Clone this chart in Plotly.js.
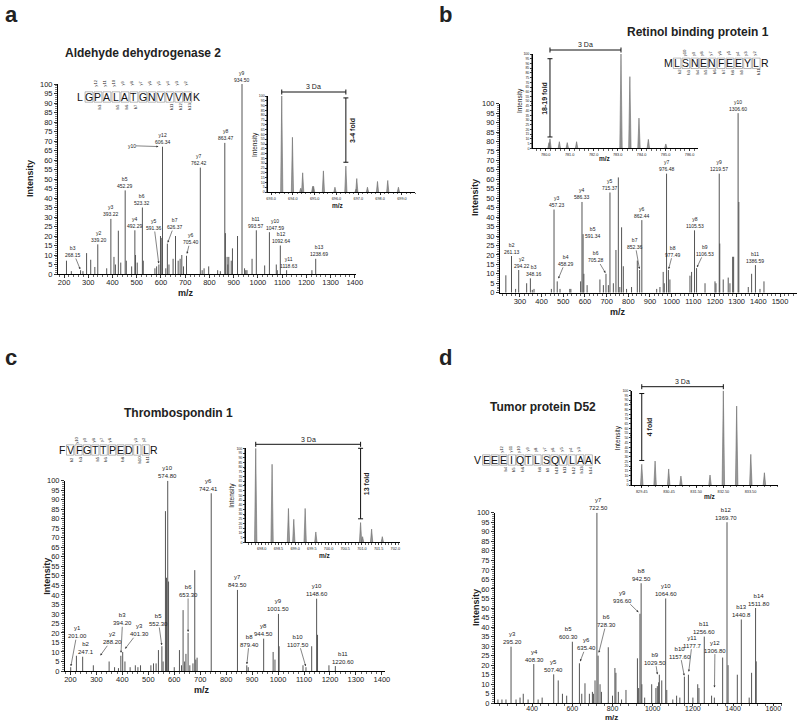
<!DOCTYPE html>
<html>
<head>
<meta charset="utf-8">
<script src="https://cdn.plot.ly/plotly-3.0.1.min.js"></script>
<style>
html,body{margin:0;padding:0;background:#fff;}
#fig{width:800px;height:722px;}
</style>
</head>
<body>
<div id="fig"></div>
<script>
// ======================= DATA =======================
// ---- Panel a : Aldehyde dehydrogenase 2 ----
const aTitle = 'Aldehyde dehydrogenase 2';
const aSeq = 'LGPALATGNVVVMK';
const aSeqY = [12,11,10,9,8,7,6,5,4,3,2];
const aSeqB = [3,5,6,7,11,12,13];
const aMz  = [210,230,268.15,278,293,310,327,339.20,376,393.22,406,412,424,434,452.29,457,479,492.29,495,502,523.32,527,575,582,591.36,598,601,606.34,620,626.37,633,650,660,671,679,686,693,705.40,762.42,770,778,797,834,845,863.47,866,873,876,880,890,895,916,934.50,945,950,955,976,993.57,1028,1047.59,1076,1080,1092.64,1118.63,1223,1238.69];
const aInt = [7,1.5,2,1.5,11,7.5,3.7,15.6,3,29,9,5,22.8,6,44,7,4,23,10,6,35,7,3,4,5,20,19,67,3,16,5,8,20,7,8,10,4,9.6,56,2,3,4,2,1.5,69,21.5,9,5,9,7,13.5,20,100,3,2,2,8,23,4.5,22,5,2,15,2,2,8];
const aLabIon = ['b3','y2','y3','b5','y4','b6','y5','y10','y12','b7','y6','y7','y8','y9','b11','y10','b12','y11','b13'];
const aLabTxt = ['268.15','339.20','393.22','452.29','492.29','523.32','591.36','','606.34','626.37','705.40','762.42','863.47','934.50','993.57','1047.59','1092.64','1118.63','1238.69'];
const aLabAt  = [268.15,339.20,393.22,452.29,492.29,523.32,591.36,606.34,606.34,626.37,705.40,762.42,863.47,934.50,993.57,1047.59,1092.64,1118.63,1238.69];
const iaMz  = [693.49,693.98,694.36,694.45,694.91,694.95,695.40,695.93,696.43,696.90,696.93,697.42,697.88,698.35,698.84];
const iaInt = [100,57,4,20,6,6,22,5,27,3,14,5,11,12,5];
const iaSpan = [693.49,696.43];
const iaFold = [696.43,31,98];
const iaFoldTxt = '3-4 fold';

// ---- Panel b : Retinol binding protein 1 ----
const bTitle = 'Retinol binding protein 1';
const bSeq = 'MLSNENFEEYLR';
const bSeqY = [10,9,8,7,6,5,4,3,2];
const bSeqB = [2,3,4,5,6,7,8,9,11];
const bMz  = [235,261.13,280,294.22,331,348.16,357,365,445,457.23,472,485,530,535,580,586.33,591.34,595,610,669,685,697,708,715.37,731,743,754,761,769,777,792,815,841.5,852.36,862.44,931,946,961,966,976.48,985,992,1084.5,1092,1105.53,1115,1154,1200,1204.5,1219.57,1222,1238,1261,1269,1281.5,1286,1306.60,1310,1353.6,1369,1386.59,1407.6,1426];
const bInt = [9.2,19.4,2,12,5,7.6,1.5,2,2,44,6,2,2,2,6,48,31,10,4,7,4,10,4,53,5,22.6,61,3,34.6,14,2,3,17,12,38.4,2,3,11,5,63,12,7,9,11,33,13,5,6,5,63,26,7,8,5,19,19,95,48,3,10,14.6,2,6];
const bLabIon = ['b2','y2','b3','y3','b4','y4','b5','b6','y5','b7','y6','y7','b8','y8','b9','y9','y10','b11'];
const bLabTxt = ['261.13','294.22','348.16','457.23','458.29','586.33','591.34','705.28','715.37','852.36','862.44','976.48','977.49','1105.53','1106.53','1219.57','1306.60','1386.59'];
const bLabAt  = [261.13,294.22,348.16,457.23,472,586.33,591.34,697,715.37,852.36,862.44,976.48,985,1105.53,1115,1219.57,1306.60,1386.59];
const ibMz  = [780.14,780.18,780.57,780.90,781.29,783.14,783.51,783.89,784.28,785.01];
const ibInt = [6,10,7,6,7,100,76,32,9.5,4.6];
const ibSpan = [780.18,783.14];
const ibFold = [780.18,12,95];
const ibFoldTxt = '18-19 fold';

// ---- Panel c : Thrombospondin 1 ----
const cTitle = 'Thrombospondin 1';
const cSeq = 'FVFGTTPEDILR';
const cSeqY = [10,9,8,7,6,3,2];
const cSeqB = [2,3,5,6,8,10,11];
const cMz  = [201.0,223,247.1,288.2,349,370,385,394.2,401.3,410,430,450,460,470,510,520,530,539,552.3,557,566,570,574.8,578,600,620,628,634,640,645,653.3,660,672,679,683,688,742.41,843.5,879.4,885,944.5,981,988,1001.5,1004,1096,1107.5,1129.5,1148.6,1152,1196,1220.6];
const cInt = [2,8,7.5,3,5,2,1.5,8,10,5,2,3,2,3,3,4,4,11,13,5,84,49,100,47,2,11,3,32,5,9,20,3,4,53,6,7,93.4,42.6,3,2,17,10,6,30,13,3,2,13,38,19,3,2.6];
const cLabIon = ['y1','b2','y2','b3','y3','b5','y10','b6','y6','y7','b8','y8','y9','b10','y10','b11'];
const cLabTxt = ['201.00','247.1','288.20','394.20','401.30','552.30','574.80','653.30','742.41','843.50','879.40','944.50','1001.50','1107.50','1148.60','1220.60'];
const cLabAt  = [201.0,247.1,288.2,394.2,401.3,552.3,574.8,653.3,742.41,843.5,879.4,944.5,1001.5,1107.5,1148.6,1220.6];
const icMz  = [697.82,698.31,698.80,698.96,699.30,699.62,700.96,701.02,701.29,701.61];
const icInt = [100,83,36,24.5,36,11,21,6,14,6];
const icSpan = [697.82,700.96];
const icFold = [700.96,25,100];
const icFoldTxt = '13 fold';

// ---- Panel d : Tumor protein D52 ----
const dTitle = 'Tumor protein D52';
const dSeq = 'VEEEIQTLSQVLAAK';
const dSeqY = [12,11,10,9,8,7,6,5,4,3];
const dSeqB = [4,5,6,8,9,10,11,12,13,14];
const dMz  = [230,250,270,295.2,320,340,356,380,408.3,430,450,507.4,530,551,572,600.3,635.4,647,663,685,700,705,713,722.5,728.3,738,745,779,800,812,817,829,845,867,924,930,936.6,942.5,946,960,995,1016,1023,1029.5,1033,1045,1064.6,1070,1100,1119,1135,1157.6,1177.7,1200,1224,1230,1256.6,1293,1306.8,1348,1369.7,1375,1421,1440.8,1480,1492,1511.8,1515];
const dInt = [2,2,2,29.7,2,3,5,2,20.6,2,3,15.2,12,5,4,32.3,21,5,10.5,5,6,5,12,100,25,10,6,29.4,4,18.5,16,6,2,7,23.6,8,47,63,10,3,10,8,9,11,15,12,55,7,2,4,3,14,15,3,10,8,35,4,3,24,95,20,15,44,3,16,50,22];
const dLabIon = ['y3','y4','y5','b5','y6','b6','y7','y9','b8','b9','y10','b10','y11','b11','y12','b12','b13','b14'];
const dLabTxt = ['295.20','408.30','507.40','600.30','635.40','728.30','722.50','936.60','942.50','1029.50','1064.60','1157.60','1177.7','1256.60','1306.80','1369.70','1440.8','1511.80'];
const dLabAt  = [295.2,408.3,507.4,600.3,635.4,728.3,722.5,936.6,942.5,1029.5,1064.6,1157.6,1177.7,1256.6,1306.8,1369.7,1440.8,1511.8];
const idMz  = [829.45,829.94,830.44,830.89,831.96,832.45,832.94,833.46,833.96];
const idInt = [22,25.4,17,9.5,10.6,100,83.7,32.5,13];
const idSpan = [829.45,832.45];
const idFold = [829.45,26,97];
const idFoldTxt = '4 fold';
const idTickVals = [829.45,830.45,831.45,832.45,833.45];
const idTickTxt  = ['829.45','830.45','831.50','832.50','833.50'];

// ======================= STYLE / GEOMETRY =======================
const W = 800, H = 722;
const FONT = 'Liberation Sans, Arial, Helvetica, sans-serif';
const INK = '#222';
const SPEC = '#555';

// axis boxes in pixels (x0,x1 left/right; y0 = value 0, y1 = value 100)
const G = {
  a:  {n:1, x0:58,    x1:356,   y0:274,   y1:84,    xr:[175,1405],     tick0:200, dtick:100, minor:20, tl:3, fs:7.5, so:-2},
  b:  {n:2, x0:500,   x1:796.7, y0:292.7, y1:103.7, xr:[208,1577],     tick0:300, dtick:100, minor:20, tl:3, fs:7.5, so:-2},
  c:  {n:3, x0:65,    x1:385,   y0:671,   y1:480.7, xr:[179,1412],     tick0:200, dtick:100, minor:20, tl:3, fs:7.5, so:-2},
  d:  {n:4, x0:495,   x1:781.7, y0:703.3, y1:512.7, xr:[215.4,1641.8], tick0:400, dtick:200, minor:40, tl:2, fs:7,   so:-4},
  ia: {n:5, x0:268,   x1:415,   y0:192,   y1:96,    xr:[692.86,699.6], tick0:693, dtick:1,   minor:0.2, fmt:'.1f', w:0.05},
  ib: {n:6, x0:532.7, x1:698,   y0:148.3, y1:54,    xr:[779.46,786.35],tick0:780, dtick:1,   minor:0.2, fmt:'.1f', w:0.05},
  ic: {n:7, x0:245.7, x1:400,   y0:542.3, y1:448.3, xr:[697.52,702.14],tick0:698, dtick:0.5, minor:0.1, fmt:'.1f', w:0.035},
  id: {n:8, x0:631.7, x1:778,   y0:485,   y1:390.7, xr:[829.08,834.46],tick0:829.45, dtick:1, minor:0.25, w:0.045}
};

// label offsets in px: [dx] above peak | [dx,dy] centred offset | [dx,dy,1,standoff] arrow
const aLabPos = [[-7.6,-18.7,1,1],[1],[0],[0],[0],[0],[-5,-40,1,1],[-31,-1,1,4],[0],[7.5,-20,1,1],[4,-17,1,2],[-1],[1],[0],[0],[5.7],[1],[2],[3]];
const bLabPos = [[0],[3],[4],[3],[8.7,-21,1,3],[0],[9.6,-2],[-10,-16.8,1,1],[0],[-4.7,-26.7,1,1],[0],[0],[4.9,-18.8,1,1],[0],[8.4,-17.8,1,1],[0],[0],[0]];
const cLabPos = [[6.5,-35,1,1],[3],[19.3,-27,1,12],[1.8,-36.5,1,3],[16.6,-21.7,1,4],[-3.6,-26.3,1,1],[0],[0,-42,1,1],[-2.5],[0],[2.5,-24.6,1,1],[0],[0],[-7.7,-26.5,1,1],[0],[8]];
const dLabPos = [[1.5],[1],[0],[-4],[7.3,-19,1,2],[8.6,-34.6,1,3],[2],[-17.3,-17,1,2],[0],[-3.6,-23.6,1,8],[0],[-4.5,-24,1,1],[3.8,-33,1,3],[0],[0.6,-51,1,10],[-1],[0],[3]];

const SEQG = {
  a: {x:80,    dx:8.98, y:97,   up:82.7,  dn:106.5},
  b: {x:668.3, dx:8.8,  y:63.3, up:53.3,  dn:72},
  c: {x:61.7,  dx:8.4,  y:450,  up:440,   dn:459.5},
  d: {x:477.7, dx:8.54, y:460,  up:449.3, dn:469.5}
};

// ======================= BUILD =======================
const traces = [], annotations = [], shapes = [];
const layout = {
  width:W, height:H, margin:{l:0,r:0,t:0,b:0},
  paper_bgcolor:'#fff', plot_bgcolor:'rgba(0,0,0,0)',
  showlegend:false, font:{family:FONT, color:INK}
};
const sfx = n => (n === 1 ? '' : String(n));
const PX = p => p / W, PY = p => 1 - p / H;
const toPx = (g, v) => g.x0 + (v - g.xr[0]) / (g.xr[1] - g.xr[0]) * (g.x1 - g.x0);
const toPy = (g, v) => g.y0 - v / 100 * (g.y0 - g.y1);

function setupAxes(g, inset) {
  const s = sfx(g.n);
  const fs = inset ? 3.8 : g.fs;
  const xa = {
    domain:[PX(g.x0), PX(g.x1)], range:g.xr, anchor:'y'+s,
    showline:true, linecolor:'#000', linewidth:1, ticks:'outside', ticklen:inset?2:g.tl, tickwidth:0.8, tickcolor:'#000',
    showgrid:false, zeroline:false, fixedrange:true, ticklabelstandoff: inset?0:g.so,
    tickfont:{family:FONT, size:fs, color:INK},
    minor:{dtick:g.minor, ticklen:inset?1.2:1.8, tickwidth:0.6, tickcolor:'#000', ticks:'outside', showgrid:false}
  };
  if (g.n === 8) { xa.tickmode = 'array'; xa.tickvals = idTickVals; xa.ticktext = idTickTxt; xa.minor.tick0 = 829.45; }
  else { xa.tickmode = 'linear'; xa.tick0 = g.tick0; xa.dtick = g.dtick; if (g.fmt) xa.tickformat = g.fmt; xa.minor.tick0 = g.tick0; }
  const ya = {
    domain:[PY(g.y0), PY(g.y1)], range:[0,100], anchor:'x'+s,
    showline:true, linecolor:'#000', linewidth:1, ticks:'outside', ticklen:inset?1.6:3, tickwidth:0.8, tickcolor:'#000',
    showgrid:false, zeroline:false, fixedrange:true,
    tickmode:'linear', tick0:0, dtick:5,
    tickfont:{family:FONT, size:inset?3.6:7.5, color:INK},
    minor:{dtick:1, ticklen:inset?0.9:1.8, tickwidth:0.5, tickcolor:'#000', ticks:'outside', showgrid:false}
  };
  layout['xaxis'+s] = xa; layout['yaxis'+s] = ya;
}

function sticks(g, mz, it) {
  const x = [], y = [];
  mz.forEach((m, i) => { x.push(m, m, null); y.push(0, it[i], null); });
  traces.push({type:'scatter', mode:'lines', x, y, xaxis:'x'+sfx(g.n), yaxis:'y'+sfx(g.n),
    line:{color:SPEC, width:1}, hoverinfo:'skip', cliponaxis:false});
}
function profile(g, mz, it) {
  const x = [], y = [];
  mz.forEach((m, i) => { x.push(m - g.w, m, m + g.w, null); y.push(0, it[i], 0, null); });
  traces.push({type:'scatter', mode:'lines', x, y, xaxis:'x'+sfx(g.n), yaxis:'y'+sfx(g.n),
    fill:'toself', fillcolor:'#9a9a9a', line:{color:'#6a6a6a', width:0.6}, hoverinfo:'skip'});
}
function nearestI(mz, it, m) {
  let best = 0, bd = Infinity;
  mz.forEach((v, i) => { const d = Math.abs(v - m); if (d < bd) { bd = d; best = i; } });
  return it[best];
}
function peakLabels(g, mz, it, ions, txts, at, pos, fs) {
  const s = sfx(g.n);
  ions.forEach((ion, i) => {
    const m = at[i], I = nearestI(mz, it, m), p = pos[i];
    const text = txts[i] ? ion + '<br>' + txts[i] : ion;
    const base = {xref:'x'+s, yref:'y'+s, x:m, y:I, text, align:'center',
      font:{family:FONT, size:fs, color:INK}, borderpad:0};
    if (p.length >= 3 && p[2]) {
      annotations.push(Object.assign(base, {showarrow:true, ax:p[0], ay:p[1], arrowhead:2, arrowsize:0.7,
        arrowwidth:0.6, arrowcolor:'#333', standoff:p[3] || 0}));
    } else if (p.length === 2) {
      annotations.push(Object.assign(base, {showarrow:false, xanchor:'center', yanchor:'middle', xshift:p[0], yshift:-p[1]}));
    } else {
      annotations.push(Object.assign(base, {showarrow:false, xanchor:'center', yanchor:'bottom', xshift:p[0] || 0, yshift:0.5}));
    }
  });
}
function sequence(seq, yI, bI, q) {
  const n = seq.length;
  for (let i = 0; i < n; i++) {
    const cx = q.x + i * q.dx;
    annotations.push({xref:'paper', yref:'paper', x:PX(cx), y:PY(q.y), text:seq[i], showarrow:false,
      xanchor:'center', yanchor:'middle', font:{family:FONT, size:10.5, color:'#111'}});
    if (i > 0 && i < n - 1) {
      shapes.push({type:'rect', xref:'paper', yref:'paper', x0:PX(cx - q.dx/2 + 0.6), x1:PX(cx + q.dx/2 - 0.6),
        y0:PY(q.y + 5.2), y1:PY(q.y - 5.2), line:{color:'#8a8a8a', width:0.6}});
    }
  }
  yI.forEach(k => annotations.push({xref:'paper', yref:'paper', x:PX(q.x + (n - k - 0.5) * q.dx + 2.5), y:PY(q.up),
    text:'y'+k, textangle:-90, showarrow:false, xanchor:'center', yanchor:'middle', font:{family:FONT, size:4.2, color:INK}}));
  bI.forEach(k => annotations.push({xref:'paper', yref:'paper', x:PX(q.x + (k - 0.5) * q.dx - 2.5), y:PY(q.dn),
    text:'b'+k, textangle:-90, showarrow:false, xanchor:'center', yanchor:'middle', font:{family:FONT, size:4.2, color:INK}}));
}
function text(x, y, t, size, opt) {
  annotations.push(Object.assign({xref:'paper', yref:'paper', x:PX(x), y:PY(y), text:t, showarrow:false,
    xanchor:'center', yanchor:'middle', font:{family:FONT, size, color:INK}}, opt || {}));
}
function line(x0, y0, x1, y1, w) {
  shapes.push({type:'line', xref:'paper', yref:'paper', x0:PX(x0), y0:PY(y0), x1:PX(x1), y1:PY(y1), line:{color:'#111', width:w || 1}});
}
function insetMarks(g, span, fold, foldTxt, foldDx) {
  const yl = g.y1 - 4;
  const xa = toPx(g, span[0]), xb = toPx(g, span[1]);
  line(xa, yl, xb, yl, 1); line(xa, yl - 2.5, xa, yl + 2.5, 1); line(xb, yl - 2.5, xb, yl + 2.5, 1);
  text((xa + xb) / 2, yl - 5, '3 Da', 7);
  const xf = toPx(g, fold[0]), yb = toPy(g, fold[1]), yt = toPy(g, fold[2]);
  line(xf, yb, xf, yt, 1); line(xf - 2.5, yb, xf + 2.5, yb, 1); line(xf - 2.5, yt, xf + 2.5, yt, 1);
  text(xf + foldDx, (yb + yt) / 2, '<b>' + foldTxt + '</b>', 7, {textangle:-90});
}

Object.keys(G).forEach(k => setupAxes(G[k], k.length === 2));

sticks(G.a, aMz, aInt); sticks(G.b, bMz, bInt); sticks(G.c, cMz, cInt); sticks(G.d, dMz, dInt);
profile(G.ia, iaMz, iaInt); profile(G.ib, ibMz, ibInt); profile(G.ic, icMz, icInt); profile(G.id, idMz, idInt);

peakLabels(G.a, aMz, aInt, aLabIon, aLabTxt, aLabAt, aLabPos, 5);
peakLabels(G.b, bMz, bInt, bLabIon, bLabTxt, bLabAt, bLabPos, 5);
peakLabels(G.c, cMz, cInt, cLabIon, cLabTxt, cLabAt, cLabPos, 6);
peakLabels(G.d, dMz, dInt, dLabIon, dLabTxt, dLabAt, dLabPos, 6);

sequence(aSeq, aSeqY, aSeqB, SEQG.a);
sequence(bSeq, bSeqY, bSeqB, SEQG.b);
sequence(cSeq, cSeqY, cSeqB, SEQG.c);
sequence(dSeq, dSeqY, dSeqB, SEQG.d);

insetMarks(G.ia, iaSpan, iaFold, iaFoldTxt, 6);
insetMarks(G.ib, ibSpan, ibFold, ibFoldTxt, -5);
insetMarks(G.ic, icSpan, icFold, icFoldTxt, 6);
insetMarks(G.id, idSpan, idFold, idFoldTxt, 7.5);

text(11, 14, '<b>a</b>', 22); text(445, 14, '<b>b</b>', 22);
text(11, 357, '<b>c</b>', 22); text(445, 357, '<b>d</b>', 22);
text(143, 52.5, '<b>' + aTitle + '</b>', 12);
text(697.5, 32.5, '<b>' + bTitle + '</b>', 12);
text(178, 412.5, '<b>' + cTitle + '</b>', 12);
text(543, 406.5, '<b>' + dTitle + '</b>', 12);

text(30, 179, '<b>Intensity</b>', 9, {textangle:-90});
text(186, 292.5, '<b>m/z</b>', 9);
text(475, 198, '<b>Intensity</b>', 9, {textangle:-90});
text(618.3, 312, '<b>m/z</b>', 9);
text(46.7, 576, '<b>Intensity</b>', 9, {textangle:-90});
text(201.7, 689.5, '<b>m/z</b>', 9);
text(476, 608, '<b>Intensity</b>', 9, {textangle:-90});
text(611.7, 717.5, '<b>m/z</b>', 8);
text(255, 144, 'Intensity', 6.5, {textangle:-90});
text(338.3, 205, '<b>m/z</b>', 6.5);
text(520, 101, 'Intensity', 6.5, {textangle:-90});
text(605, 158, '<b>m/z</b>', 6.5);
text(231.7, 495, 'Intensity', 6.5, {textangle:-90});
text(325, 555, '<b>m/z</b>', 6.5);
text(618.3, 438, 'Intensity', 6.5, {textangle:-90});
text(710, 496.7, '<b>m/z</b>', 6.5);

layout.annotations = annotations;
layout.shapes = shapes;
Plotly.newPlot('fig', traces, layout, {staticPlot:true, displayModeBar:false});
</script>
</body>
</html>
